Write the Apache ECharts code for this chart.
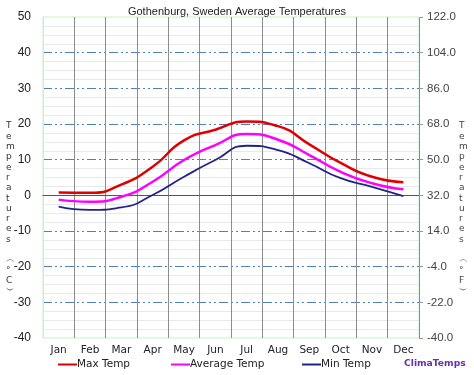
<!DOCTYPE html>
<html>
<head>
<meta charset="utf-8">
<script src="https://cdn.jsdelivr.net/npm/echarts@6/dist/echarts.min.js"></script>
<style>
  html, body { margin: 0; padding: 0; background: #fff; }
  #chart { width: 474px; height: 375px; }
</style>
</head>
<body>
<div id="chart"></div>
<script>
const months = ['Jan', 'Feb', 'Mar', 'Apr', 'May', 'Jun', 'Jul', 'Aug', 'Sep', 'Oct', 'Nov', 'Dec'];
const maxTemp = [0.8, 0.7, 3.0, 8.0, 15.4, 18.4, 20.7, 19.4, 14.3, 9.1, 5.2, 3.7];
const avgTemp = [-1.2, -1.8, -0.4, 3.8, 9.9, 14.1, 17.2, 15.6, 11.3, 6.6, 3.4, 1.7];
const minTemp = [-3.2, -4.1, -3.4, 0.1, 5.2, 9.9, 13.9, 12.7, 9.0, 4.8, 2.4, -0.2];
const leftTitle = 'Temperatures';

const chart = echarts.init(document.getElementById('chart'));

const vert = (s, unit) => s.split('').join('\n') + '\n\n︵\n°\n' + unit + '\n︶';

const dashDot = [9, 3, 2, 3, 2, 3];

chart.setOption({
  animation: false,
  title: {
    text: 'Gothenburg, Sweden Average Temperatures',
    left: 'center',
    top: 1,
    textStyle: { fontFamily: 'Liberation Sans', fontSize: 11, fontWeight: 'normal', color: '#222' }
  },
  grid: { left: 43, right: 55, top: 17, bottom: 37, show: true, borderColor: '#c8f0c8', borderWidth: 1 },
  legend: [
    { data: ['Max Temp'], left: 58, top: 359 },
    { data: ['Average Temp'], left: 171, top: 359 },
    { data: ['Min Temp'], left: 302, top: 359 }
  ].map(l => Object.assign(l, {
    icon: 'rect', itemWidth: 19, itemHeight: 2, itemGap: 0,
    textStyle: { fontFamily: 'DejaVu Sans', fontSize: 10.5, color: '#222', padding: [0, 0, 0, -5] },
    padding: 0
  })),
  xAxis: {
    type: 'category',
    data: months,
    boundaryGap: true,
    axisLine: { onZero: true, lineStyle: { color: '#555', width: 1 } },
    axisTick: { show: false },
    axisLabel: {
      fontFamily: 'DejaVu Sans', fontSize: 10.5, color: '#222', margin: 7
    },
    splitLine: { show: true, interval: 0, lineStyle: { color: '#8c8c8c', width: 1 } }
  },
  yAxis: [
    {
      type: 'value', min: -40, max: 50, interval: 10,
      axisLine: { show: true, lineStyle: { color: '#c8f0c8' } },
      axisTick: { show: false },
      axisLabel: { fontFamily: 'Liberation Sans', fontSize: 12, color: '#222', margin: 12 },
      splitLine: { showMinLine: false, showMaxLine: false, lineStyle: { color: '#4f7fbf', type: dashDot, width: 1 } },
      minorTick: { show: false, splitNumber: 4 },
      minorSplitLine: { show: true, lineStyle: { color: '#e6e9f0', width: 1 } }
    },
    {
      type: 'value', min: -40, max: 50, interval: 10, position: 'right',
      axisLine: { show: false },
      axisTick: { show: true, length: 4, lineStyle: { color: '#999' } },
      axisLabel: {
        fontFamily: 'Liberation Sans', fontSize: 11.5, color: '#444', margin: 8,
        formatter: v => (v * 1.8 + 32).toFixed(1)
      },
      splitLine: { show: false }
    }
  ],
  series: [
    { name: 'Max Temp', type: 'line', data: maxTemp, smooth: 0.55, symbol: 'none', color: '#e00000', lineStyle: { width: 2.5 }, z: 5 },
    { name: 'Average Temp', type: 'line', data: avgTemp, smooth: 0.55, symbol: 'none', color: '#ff00ff', lineStyle: { width: 2.5 }, z: 4 },
    { name: 'Min Temp', type: 'line', data: minTemp, smooth: 0.55, symbol: 'none', color: '#22228a', lineStyle: { width: 1.8 }, z: 3 }
  ],
  graphic: [
    {
      type: 'text', left: 6, top: 121,
      style: { text: vert(leftTitle, 'C'), fontFamily: 'DejaVu Sans', fontSize: 9, lineHeight: 10.3, fill: '#333', align: 'center' }
    },
    {
      type: 'text', left: 459, top: 121,
      style: { text: vert(leftTitle, 'F'), fontFamily: 'DejaVu Sans', fontSize: 9, lineHeight: 10.3, fill: '#444', align: 'center' }
    },
    {
      type: 'text', left: 404, top: 359,
      style: { text: 'ClimaTemps', fontFamily: 'DejaVu Sans', fontSize: 9.2, fontWeight: 'bold', fill: '#6a30a8' }
    }
  ]
});
</script>
</body>
</html>
